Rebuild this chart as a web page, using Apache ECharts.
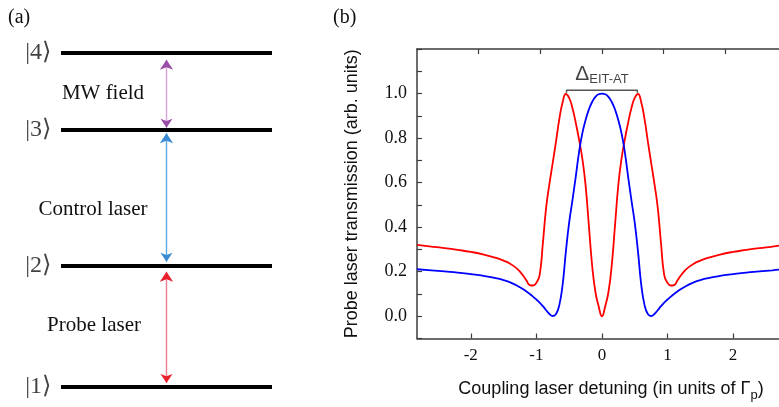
<!DOCTYPE html>
<html><head><meta charset="utf-8">
<script src="https://cdn.jsdelivr.net/npm/echarts@6/dist/echarts.min.js"></script>
<style>html,body{margin:0;padding:0;background:#fff}#c{width:779px;height:407px}</style>
</head><body><div id="c"></div>
<script>
// ---------- Panel (b): probe transmission vs coupling detuning ----------
const detuningAT = [-2.82,-2.6,-2.4,-2.2,-2.0,-1.8,-1.6,-1.5,-1.4,-1.3,-1.25,-1.2,-1.15,-1.1,-1.05,-1.0,-0.95,-0.9,-0.85,-0.8,-0.75,-0.7,-0.65,-0.6,-0.55,-0.5,-0.45,-0.4,-0.35,-0.3,-0.25,-0.2,-0.15,-0.1,-0.05,0,
  0.05,0.1,0.15,0.2,0.25,0.3,0.35,0.4,0.45,0.5,0.55,0.6,0.65,0.7,0.75,0.8,0.85,0.9,0.95,1.0,1.05,1.1,1.15,1.2,1.25,1.3,1.4,1.5,1.6,1.8,2.0,2.2,2.4,2.6,2.70];
const transmissionAT = [0.320,0.313,0.306,0.298,0.289,0.277,0.261,0.250,0.236,0.215,0.200,0.182,0.160,0.140,0.138,0.150,0.185,0.330,0.490,0.595,0.690,0.785,0.885,0.960,0.998,0.980,0.935,0.870,0.795,0.710,0.590,0.410,0.230,0.110,0.045,0.000,
  0.045,0.110,0.230,0.410,0.590,0.710,0.795,0.870,0.935,0.980,0.998,0.960,0.885,0.785,0.690,0.595,0.490,0.330,0.185,0.150,0.138,0.140,0.160,0.182,0.200,0.215,0.236,0.250,0.261,0.277,0.289,0.298,0.306,0.313,0.317];
const detuningEIT = [-2.82,-2.6,-2.4,-2.2,-2.0,-1.8,-1.6,-1.5,-1.4,-1.3,-1.25,-1.2,-1.15,-1.1,-1.05,-1.0,-0.95,-0.9,-0.85,-0.8,-0.75,-0.7,-0.65,-0.6,-0.55,-0.5,-0.45,-0.4,-0.35,-0.3,-0.25,-0.2,-0.15,-0.1,-0.05,0,
  0.05,0.1,0.15,0.2,0.25,0.3,0.35,0.4,0.45,0.5,0.55,0.6,0.65,0.7,0.75,0.8,0.85,0.9,0.95,1.0,1.05,1.1,1.15,1.2,1.25,1.3,1.4,1.5,1.6,1.8,2.0,2.2,2.4,2.6,2.70];
const transmissionEIT = [0.211,0.206,0.201,0.196,0.189,0.181,0.170,0.162,0.152,0.138,0.130,0.121,0.111,0.100,0.088,0.075,0.061,0.045,0.027,0.010,0.001,0.010,0.050,0.140,0.290,0.420,0.520,0.625,0.735,0.820,0.880,0.928,0.962,0.985,0.997,1.000,
  0.997,0.985,0.962,0.928,0.880,0.820,0.735,0.625,0.520,0.420,0.290,0.140,0.050,0.010,0.001,0.010,0.027,0.045,0.061,0.075,0.088,0.100,0.111,0.121,0.130,0.138,0.152,0.162,0.170,0.181,0.189,0.196,0.201,0.206,0.209];
const xTickValues = [-2, -1, 0, 1, 2];
const yLabelValues = [0, 0.2, 0.4, 0.6, 0.8, 1.0];
const splittingLabel = 'EIT-AT';
const splittingPeaks = [-0.54, 0.54];
const splittingLevel = 1.0;

// ---------- Panel (a): four-level ladder ----------
const levelNames = ['|1⟩', '|2⟩', '|3⟩', '|4⟩'];
const levelEnergies = [0, 0.362, 0.769, 1.0];
const transitionNames = ['Probe laser', 'Control laser', 'MW field'];
const transitionLower = [0.012, 0.375, 0.776];
const transitionUpper = [0.345, 0.760, 0.980];

// ---------- styles ----------
const serif = "Liberation Serif";
const sans = "Liberation Sans";
const axisColor = '#3c3c3c';
const shaftColors = ['#ec7f92', '#5aaae2', '#d9a2dc'];
const headColors = ['#e8202c', '#3a8bd2', '#9a4ea7'];
const transitionLabelPos = [[94, 325], [93, 209], [103, 93]];

const chart = echarts.init(document.getElementById('c'), null, {renderer: 'canvas'});

const axisLine = {show: true, onZero: false, lineStyle: {color: axisColor, width: 1.5}};
const tickStyle = {color: axisColor, width: 1.2};

const option = {
  animation: false,
  backgroundColor: '#fff',
  textStyle: {fontFamily: serif},
  grid: [
    {left: 417, top: 49, right: 0, bottom: 60},
    {left: 61, top: 53, right: 507, bottom: 20}
  ],
  xAxis: [
    {gridIndex: 0, type: 'value', min: -2.82, max: 2.70, position: 'bottom',
      axisLine: axisLine,
      axisTick: {show: true, inside: true, length: 5, customValues: xTickValues, lineStyle: tickStyle},
      axisLabel: {customValues: xTickValues, fontFamily: serif, fontSize: 17, color: '#111', margin: 9},
      splitLine: {show: false},
      name: '{t|Coupling laser detuning (in units of Γ}{s|p}{t|)}',
      nameLocation: 'middle', nameGap: 40,
      nameTextStyle: {
        padding: [0, 0, 0, 26],
        rich: {
          t: {fontFamily: sans, fontSize: 18, color: '#111', lineHeight: 22},
          s: {fontFamily: sans, fontSize: 13, color: '#111', lineHeight: 22, padding: [12, 0, 0, 0]}
        }
      }
    },
    {gridIndex: 0, type: 'value', min: -3, max: 2.87, position: 'top',
      axisLine: axisLine,
      axisTick: {show: true, inside: true, length: 5, customValues: xTickValues, lineStyle: tickStyle},
      axisLabel: {show: false}, splitLine: {show: false}
    },
    {gridIndex: 1, type: 'value', min: 0, max: 1, show: false}
  ],
  yAxis: [
    {gridIndex: 0, type: 'value', min: -0.1, max: 1.2, interval: 0.1,
      axisLine: axisLine,
      axisTick: {show: true, inside: true, length: 5, lineStyle: tickStyle},
      axisLabel: {customValues: yLabelValues, formatter: v => v.toFixed(1), fontFamily: serif, fontSize: 18, color: '#111', margin: 10},
      splitLine: {show: false},
      name: 'Probe laser transmission (arb. units)',
      nameLocation: 'middle', nameGap: 56,
      nameTextStyle: {fontFamily: sans, fontSize: 18, color: '#111'}
    },
    {gridIndex: 1, type: 'value', min: 0, max: 1, show: false}
  ],
  series: [
    {type: 'line', name: 'AT', xAxisIndex: 0, yAxisIndex: 0,
      data: detuningAT.map((x, i) => [x, transmissionAT[i]]),
      showSymbol: false, smooth: 0.5, lineStyle: {color: '#ff0000', width: 1.8}, z: 3},
    {type: 'line', name: 'EIT', xAxisIndex: 0, yAxisIndex: 0,
      data: detuningEIT.map((x, i) => [x, transmissionEIT[i]]),
      showSymbol: false, smooth: 0.5, lineStyle: {color: '#0000ff', width: 1.8}, z: 4},
    {type: 'line', name: 'bracket', xAxisIndex: 0, yAxisIndex: 0,
      data: [[splittingPeaks[0], splittingLevel + 0.003], [splittingPeaks[0], splittingLevel + 0.015],
             [splittingPeaks[1], splittingLevel + 0.015], [splittingPeaks[1], splittingLevel + 0.003]],
      showSymbol: false, lineStyle: {color: '#555', width: 1.5}, z: 5},
    {type: 'scatter', name: 'label', xAxisIndex: 0, yAxisIndex: 0,
      data: [[(splittingPeaks[0] + splittingPeaks[1]) / 2, splittingLevel + 0.015]],
      symbolSize: 0,
      label: {show: true, position: 'top', distance: 4,
        formatter: '{d|Δ}{s|' + splittingLabel + '}',
        rich: {
          d: {fontFamily: sans, fontSize: 21, color: '#111', lineHeight: 24},
          s: {fontFamily: sans, fontSize: 13, color: '#111', lineHeight: 24, padding: [10, 0, 0, 0]}
        }
      }
    },
    // panel (a) levels
    {type: 'lines', coordinateSystem: 'cartesian2d', xAxisIndex: 2, yAxisIndex: 1,
      data: levelEnergies.map(v => ({coords: [[0, v], [1, v]]})),
      symbol: ['none', 'none'],
      lineStyle: {color: '#000', width: 4, opacity: 1}
    },
    {type: 'scatter', name: 'levels', xAxisIndex: 2, yAxisIndex: 1,
      data: levelEnergies.map(v => [0, v]), symbolSize: 0,
      label: {show: true, position: 'left', distance: 10,
        formatter: p => levelNames[p.dataIndex],
        fontFamily: serif, fontSize: 24, color: '#111'}
    },
    // arrow shafts
    {type: 'lines', coordinateSystem: 'cartesian2d', xAxisIndex: 2, yAxisIndex: 1,
      data: transitionNames.map((n, i) => ({name: n, coords: [[0.5, transitionLower[i]], [0.5, transitionUpper[i]]],
        lineStyle: {color: shaftColors[i]}})),
      symbol: ['none', 'none'],
      lineStyle: {width: 1.4, opacity: 1}, z: 2
    },
    // arrow heads
    {type: 'lines', coordinateSystem: 'cartesian2d', xAxisIndex: 2, yAxisIndex: 1,
      data: transitionNames.map((n, i) => ({name: n, coords: [[0.5, transitionLower[i]], [0.5, transitionUpper[i]]],
        lineStyle: {color: headColors[i]}})),
      symbol: ['arrow', 'arrow'], symbolSize: [9, 10], symbolOffset: [0, 5],
      lineStyle: {width: 0, opacity: 1}, z: 3
    }
  ],
  graphic: [
    {type: 'text', x: 8, y: 18, style: {text: '(a)', font: '20px ' + serif, fill: '#111', verticalAlign: 'middle'}},
    {type: 'text', x: 333, y: 18, style: {text: '(b)', font: '20px ' + serif, fill: '#111', verticalAlign: 'middle'}}
  ].concat(transitionNames.map((n, i) => ({type: 'text', x: transitionLabelPos[i][0], y: transitionLabelPos[i][1],
      style: {text: n, font: '21px ' + serif, fill: '#111', align: 'center', verticalAlign: 'middle'}})))
};
chart.setOption(option);
</script>
</body></html>
